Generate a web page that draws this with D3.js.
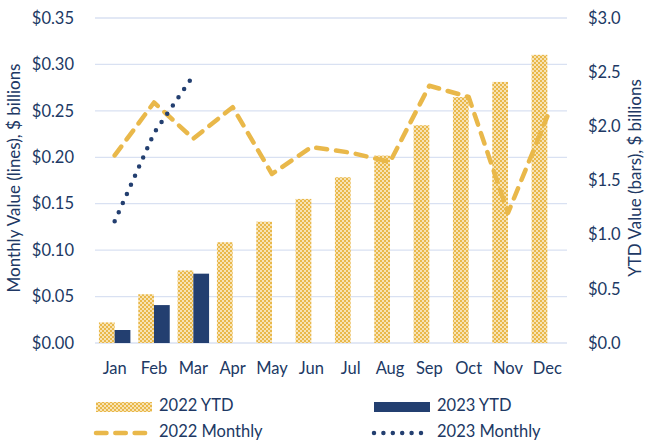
<!DOCTYPE html>
<html>
<head>
<meta charset="utf-8">
<script src="https://cdn.jsdelivr.net/npm/d3@7"></script>
<style>
  body { margin: 0; background: #fff; }
  svg text { font-family: Lato, "Open Sans", sans-serif; fill: #203864; }
</style>
</head>
<body>
<div class="canvas"></div>
<script>
// 데이터
const months = ["Jan","Feb","Mar","Apr","May","Jun","Jul","Aug","Sep","Oct","Nov","Dec"];
const ytd2022 = [0.19, 0.45, 0.67, 0.93, 1.12, 1.33, 1.53, 1.73, 2.01, 2.27, 2.41, 2.66];
const ytd2023 = [0.12, 0.35, 0.64];
const monthly2022 = [0.202, 0.259, 0.220, 0.254, 0.182, 0.211, 0.205, 0.195, 0.277, 0.265, 0.140, 0.244];
const monthly2023 = [0.131, 0.226, 0.288];
const leftTicks = [0, 0.05, 0.10, 0.15, 0.20, 0.25, 0.30, 0.35];
const rightTicks = [0, 0.5, 1.0, 1.5, 2.0, 2.5, 3.0];

const width = 647, height = 442;
const marginLeft = 95, marginRight = 80, marginTop = 18, marginBottom = 99;
const gold = "#E9B84A", navy = "#233F70", grid = "#D9E1F2";

const svg = d3.select(".canvas").append("svg")
  .attr("width", width).attr("height", height);

// 체크무늬 패턴
const defs = svg.append("defs");
const pat = defs.append("pattern").attr("id", "check")
  .attr("width", 4).attr("height", 4).attr("patternUnits", "userSpaceOnUse");
pat.append("rect").attr("width", 4).attr("height", 4).attr("fill", "#F7E3B5");
pat.append("rect").attr("width", 2).attr("height", 2).attr("fill", gold);
pat.append("rect").attr("x", 2).attr("y", 2).attr("width", 2).attr("height", 2).attr("fill", gold);

const x = d3.scaleBand().domain(months).range([marginLeft, width - marginRight]).padding(0);
const x1 = d3.scaleBand().domain(["2022", "2023"])
  .range([x.bandwidth() * 0.1, x.bandwidth() * 0.9]).padding(0);
const yL = d3.scaleLinear().domain([0, 0.35]).range([height - marginBottom, marginTop]);
const yR = d3.scaleLinear().domain([0, 3.0]).range([height - marginBottom, marginTop]);

// 그리드
svg.append("g").selectAll("line").data(leftTicks).join("line")
  .attr("x1", marginLeft).attr("x2", width - marginRight)
  .attr("y1", d => yL(d)).attr("y2", d => yL(d))
  .attr("stroke", grid).attr("stroke-width", 1.3);

// 축 (왼쪽 / 오른쪽 / 아래)
const axL = svg.append("g").attr("transform", `translate(${marginLeft - 18},0)`)
  .call(d3.axisLeft(yL).tickValues(leftTicks).tickSize(0).tickFormat(d3.format("$.2f")));
const axR = svg.append("g").attr("transform", `translate(${width - marginRight + 18},0)`)
  .call(d3.axisRight(yR).tickValues(rightTicks).tickSize(0).tickFormat(d3.format("$.1f")));
const axB = svg.append("g").attr("transform", `translate(0,${height - marginBottom + 16})`)
  .call(d3.axisBottom(x).tickSize(0));
[axL, axR, axB].forEach(g => {
  g.select(".domain").remove();
  g.selectAll("text").attr("font-size", 16.5).style("font-family", "Lato, sans-serif").attr("fill", "#203864");
});
axL.selectAll("text").attr("dx", 0);
axR.selectAll("text").attr("dx", 0);

// 막대
svg.append("g").selectAll("rect").data(ytd2022).join("rect")
  .attr("x", (d, i) => x(months[i]) + x1("2022"))
  .attr("y", d => yR(d))
  .attr("width", x1.bandwidth())
  .attr("height", d => yR(0) - yR(d))
  .attr("fill", "url(#check)");
svg.append("g").selectAll("rect").data(ytd2023).join("rect")
  .attr("x", (d, i) => x(months[i]) + x1("2023"))
  .attr("y", d => yR(d))
  .attr("width", x1.bandwidth())
  .attr("height", d => yR(0) - yR(d))
  .attr("fill", navy);

// 선
const cx = i => x(months[i]) + x.bandwidth() / 2;
const line = d3.line().x((d, i) => cx(i)).y(d => yL(d));
svg.append("path").datum(monthly2022).attr("d", line)
  .attr("fill", "none").attr("stroke", gold).attr("stroke-width", 4.5)
  .attr("stroke-linecap", "round").attr("stroke-linejoin", "round")
  .attr("stroke-dasharray", "11 9");
svg.append("path").datum(monthly2023).attr("d", line)
  .attr("fill", "none").attr("stroke", navy).attr("stroke-width", 4.5)
  .attr("stroke-linecap", "round").attr("stroke-dasharray", "0 10");

// 축 제목
svg.append("text")
  .attr("transform", `translate(16,178) rotate(-90)`)
  .attr("text-anchor", "middle").attr("dominant-baseline", "middle")
  .attr("font-size", 17).text("Monthly Value (lines), $ billions");
svg.append("text")
  .attr("transform", `translate(637,178) rotate(-90)`)
  .attr("text-anchor", "middle").attr("dominant-baseline", "middle")
  .attr("font-size", 17).text("YTD Value (bars), $ billions");

// 범례
const legendItems = [
  { label: "2022 YTD", type: "bar", fill: "url(#check)", x: 96, y: 407 },
  { label: "2023 YTD", type: "bar", fill: navy, x: 374, y: 407 },
  { label: "2022 Monthly", type: "dash", x: 96, y: 433 },
  { label: "2023 Monthly", type: "dot", x: 374, y: 433 }
];
const lg = svg.append("g").selectAll("g").data(legendItems).join("g")
  .attr("transform", d => `translate(${d.x},${d.y})`);
lg.filter(d => d.type === "bar").append("rect")
  .attr("x", 0).attr("y", -5).attr("width", 56).attr("height", 10)
  .attr("fill", d => d.fill);
lg.filter(d => d.type === "dash").append("line")
  .attr("x1", 0).attr("x2", 52).attr("y1", 0).attr("y2", 0)
  .attr("stroke", gold).attr("stroke-width", 4.5).attr("stroke-linecap", "round")
  .attr("stroke-dasharray", "10.5 8.8");
lg.filter(d => d.type === "dot").append("line")
  .attr("x1", 0).attr("x2", 56).attr("y1", 0).attr("y2", 0)
  .attr("stroke", navy).attr("stroke-width", 4.5).attr("stroke-linecap", "round")
  .attr("stroke-dasharray", "0 9.4");
lg.append("text").attr("x", 63).attr("y", 0).attr("dominant-baseline", "middle")
  .attr("font-size", 16.5).text(d => d.label);
</script>
</body>
</html>
